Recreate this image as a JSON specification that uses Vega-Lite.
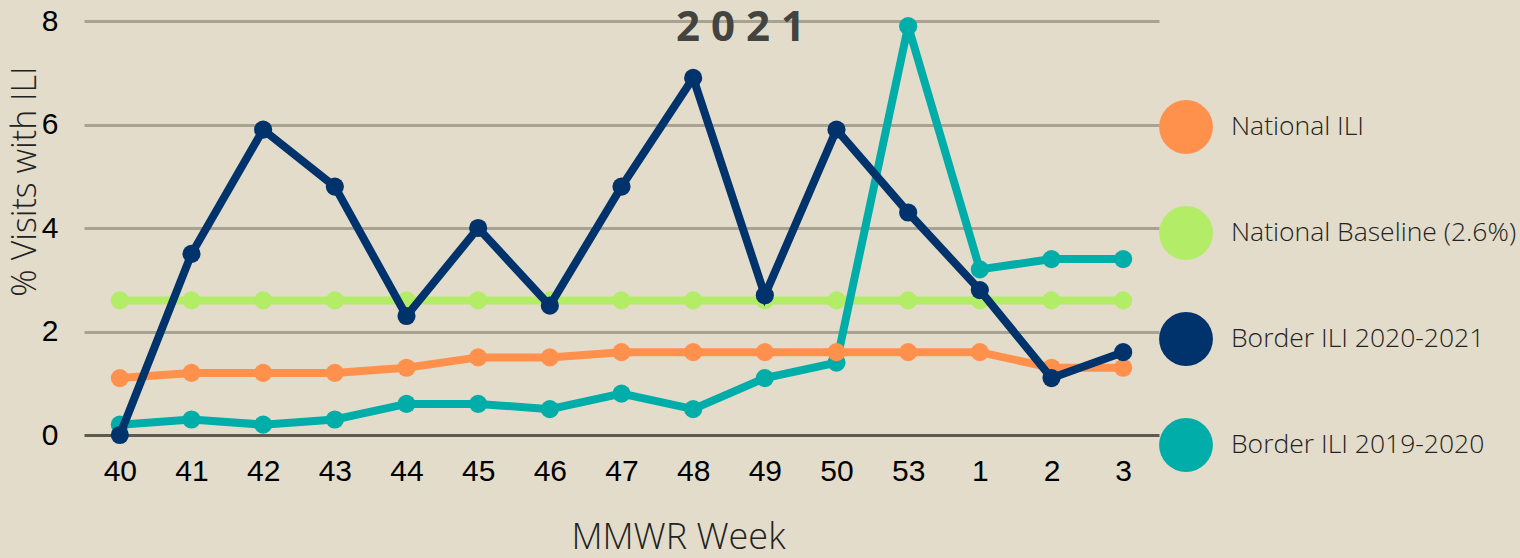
{
  "$schema": "https://vega.github.io/schema/vega-lite/v6.json",
  "autosize": {"type": "none"},
  "padding": {"left": 84, "top": 21, "right": 361, "bottom": 123},
  "width": 1075,
  "height": 414,
  "background": "#E3DCCA",
  "config": {"view": {"stroke": null}},
  "title": {
    "text": "2 0 2 1",
    "font": "Open Sans",
    "fontSize": 42,
    "fontWeight": "bold",
    "color": "#43433F",
    "anchor": "middle",
    "frame": "group",
    "dx": 119,
    "dy": 56,
    "baseline": "alphabetic",
    "offset": -21
  },
  "data": {
    "values": [
      {"week": "40", "series": "National Baseline (2.6%)", "value": 2.6},
      {"week": "41", "series": "National Baseline (2.6%)", "value": 2.6},
      {"week": "42", "series": "National Baseline (2.6%)", "value": 2.6},
      {"week": "43", "series": "National Baseline (2.6%)", "value": 2.6},
      {"week": "44", "series": "National Baseline (2.6%)", "value": 2.6},
      {"week": "45", "series": "National Baseline (2.6%)", "value": 2.6},
      {"week": "46", "series": "National Baseline (2.6%)", "value": 2.6},
      {"week": "47", "series": "National Baseline (2.6%)", "value": 2.6},
      {"week": "48", "series": "National Baseline (2.6%)", "value": 2.6},
      {"week": "49", "series": "National Baseline (2.6%)", "value": 2.6},
      {"week": "50", "series": "National Baseline (2.6%)", "value": 2.6},
      {"week": "53", "series": "National Baseline (2.6%)", "value": 2.6},
      {"week": "1", "series": "National Baseline (2.6%)", "value": 2.6},
      {"week": "2", "series": "National Baseline (2.6%)", "value": 2.6},
      {"week": "3", "series": "National Baseline (2.6%)", "value": 2.6},
      {"week": "40", "series": "Border ILI 2019-2020", "value": 0.2},
      {"week": "41", "series": "Border ILI 2019-2020", "value": 0.3},
      {"week": "42", "series": "Border ILI 2019-2020", "value": 0.2},
      {"week": "43", "series": "Border ILI 2019-2020", "value": 0.3},
      {"week": "44", "series": "Border ILI 2019-2020", "value": 0.6},
      {"week": "45", "series": "Border ILI 2019-2020", "value": 0.6},
      {"week": "46", "series": "Border ILI 2019-2020", "value": 0.5},
      {"week": "47", "series": "Border ILI 2019-2020", "value": 0.8},
      {"week": "48", "series": "Border ILI 2019-2020", "value": 0.5},
      {"week": "49", "series": "Border ILI 2019-2020", "value": 1.1},
      {"week": "50", "series": "Border ILI 2019-2020", "value": 1.4},
      {"week": "53", "series": "Border ILI 2019-2020", "value": 7.9},
      {"week": "1", "series": "Border ILI 2019-2020", "value": 3.2},
      {"week": "2", "series": "Border ILI 2019-2020", "value": 3.4},
      {"week": "3", "series": "Border ILI 2019-2020", "value": 3.4},
      {"week": "40", "series": "National ILI", "value": 1.1},
      {"week": "41", "series": "National ILI", "value": 1.2},
      {"week": "42", "series": "National ILI", "value": 1.2},
      {"week": "43", "series": "National ILI", "value": 1.2},
      {"week": "44", "series": "National ILI", "value": 1.3},
      {"week": "45", "series": "National ILI", "value": 1.5},
      {"week": "46", "series": "National ILI", "value": 1.5},
      {"week": "47", "series": "National ILI", "value": 1.6},
      {"week": "48", "series": "National ILI", "value": 1.6},
      {"week": "49", "series": "National ILI", "value": 1.6},
      {"week": "50", "series": "National ILI", "value": 1.6},
      {"week": "53", "series": "National ILI", "value": 1.6},
      {"week": "1", "series": "National ILI", "value": 1.6},
      {"week": "2", "series": "National ILI", "value": 1.3},
      {"week": "3", "series": "National ILI", "value": 1.3},
      {"week": "40", "series": "Border ILI 2020-2021", "value": 0.0},
      {"week": "41", "series": "Border ILI 2020-2021", "value": 3.5},
      {"week": "42", "series": "Border ILI 2020-2021", "value": 5.9},
      {"week": "43", "series": "Border ILI 2020-2021", "value": 4.8},
      {"week": "44", "series": "Border ILI 2020-2021", "value": 2.3},
      {"week": "45", "series": "Border ILI 2020-2021", "value": 4.0},
      {"week": "46", "series": "Border ILI 2020-2021", "value": 2.5},
      {"week": "47", "series": "Border ILI 2020-2021", "value": 4.8},
      {"week": "48", "series": "Border ILI 2020-2021", "value": 6.9},
      {"week": "49", "series": "Border ILI 2020-2021", "value": 2.7},
      {"week": "50", "series": "Border ILI 2020-2021", "value": 5.9},
      {"week": "53", "series": "Border ILI 2020-2021", "value": 4.3},
      {"week": "1", "series": "Border ILI 2020-2021", "value": 2.8},
      {"week": "2", "series": "Border ILI 2020-2021", "value": 1.1},
      {"week": "3", "series": "Border ILI 2020-2021", "value": 1.6}
    ]
  },
  "encoding": {
    "x": {
      "field": "week",
      "type": "nominal",
      "scale": {"type": "point", "padding": 0.5, "domain": ["40","41","42","43","44","45","46","47","48","49","50","53","1","2","3"]},
      "axis": {
        "title": "MMWR Week",
        "labelAngle": 0,
        "labelFont": "Liberation Sans",
        "labelFontSize": 30,
        "labelColor": "#000000",
        "labelPadding": 21,
        "domain": false,
        "ticks": false,
        "grid": false,
        "titleFont": "Open Sans",
        "titleFontSize": 36,
        "titleFontWeight": 300,
        "titleColor": "#222222",
        "titlePadding": 34,
        "titleX": 594
      }
    },
    "y": {
      "field": "value",
      "type": "quantitative",
      "scale": {"domain": [0, 8], "nice": false},
      "axis": {
        "title": "% Visits with ILI",
        "values": [0, 2, 4, 6, 8],
        "labelFont": "Liberation Sans",
        "labelFontSize": 30,
        "labelColor": "#000000",
        "labelPadding": 26,
        "domain": false,
        "ticks": false,
        "grid": true,
        "gridWidth": 3,
        "gridColor": {"condition": {"test": "datum.value === 0", "value": "#5E5A51"}, "value": "#A8A293"},
        "titleFont": "Open Sans",
        "titleFontSize": 34,
        "titleFontWeight": 300,
        "titleColor": "#222222",
        "titleAngle": -90,
        "titleBaseline": "middle",
        "titleAlign": "center",
        "titleX": -59,
        "titleY": 160
      }
    },
    "color": {
      "field": "series",
      "type": "nominal",
      "scale": {
        "domain": ["National ILI", "National Baseline (2.6%)", "Border ILI 2020-2021", "Border ILI 2019-2020"],
        "range": ["#FF914D", "#B3EC66", "#00336B", "#00ADA9"]
      },
      "legend": {
        "title": null,
        "orient": "none",
        "legendX": 1075,
        "legendY": 79,
        "padding": 0,
        "symbolType": "circle",
        "symbolSize": 2900,
        "symbolOpacity": 1,
        "symbolStrokeWidth": 0,
        "rowPadding": 52,
        "labelOffset": 18,
        "labelFont": "Open Sans",
        "labelFontSize": 26.5,
        "labelFontWeight": 300,
        "labelColor": "#222222",
        "labelLimit": 400
      }
    }
  },
  "layer": [
    {
      "transform": [{"filter": "datum.series === 'National Baseline (2.6%)'"}],
      "mark": {"type": "line", "strokeWidth": 8, "point": {"filled": true, "size": 330, "opacity": 1}}
    },
    {
      "transform": [{"filter": "datum.series === 'Border ILI 2019-2020'"}],
      "mark": {"type": "line", "strokeWidth": 8, "point": {"filled": true, "size": 330, "opacity": 1}}
    },
    {
      "transform": [{"filter": "datum.series === 'National ILI'"}],
      "mark": {"type": "line", "strokeWidth": 8, "point": {"filled": true, "size": 330, "opacity": 1}}
    },
    {
      "transform": [{"filter": "datum.series === 'Border ILI 2020-2021'"}],
      "mark": {"type": "line", "strokeWidth": 8, "point": {"filled": true, "size": 330, "opacity": 1}}
    }
  ]
}
